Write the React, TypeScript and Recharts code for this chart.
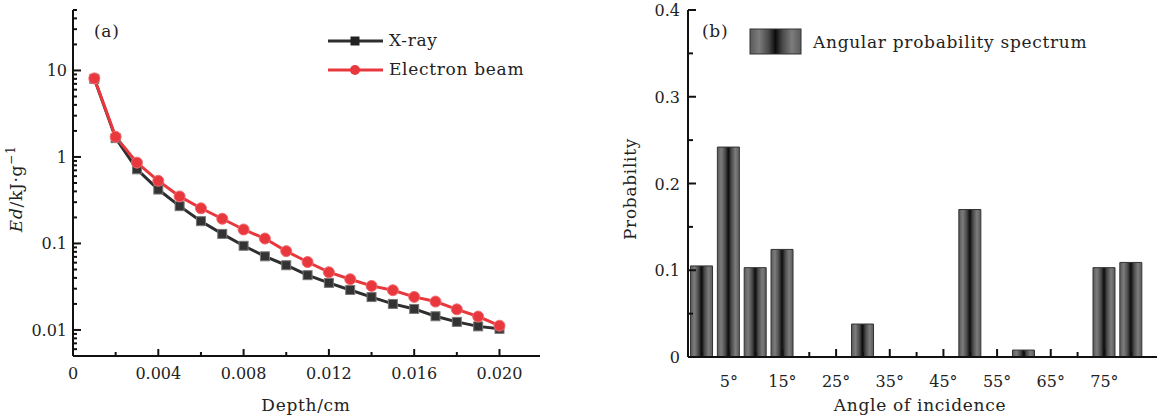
import { LineChart, Line, XAxis, YAxis, BarChart, Bar, Legend, Label } from "recharts";

// (a) energy deposition vs depth
const depth = [
  0.001, 0.002, 0.003, 0.004, 0.005, 0.006, 0.007, 0.008, 0.009, 0.01,
  0.011, 0.012, 0.013, 0.014, 0.015, 0.016, 0.017, 0.018, 0.019, 0.02,
];
const xray = [
  8.0, 1.65, 0.72, 0.42, 0.27, 0.181, 0.129, 0.094, 0.071, 0.056,
  0.043, 0.035, 0.029, 0.024, 0.02, 0.0175, 0.0144, 0.0124, 0.011, 0.0103,
];
const electron = [
  8.1, 1.71, 0.86, 0.53, 0.35, 0.255, 0.193, 0.145, 0.114, 0.0815,
  0.061, 0.0465, 0.0386, 0.0323, 0.0288, 0.0241, 0.0213, 0.0173, 0.0143, 0.0112,
];
const depthTicks = [0, 0.002, 0.004, 0.006, 0.008, 0.01, 0.012, 0.014, 0.016, 0.018, 0.02];
const depthLabels: Record<string, string> = {
  "0": "0", "0.004": "0.004", "0.008": "0.008", "0.012": "0.012", "0.016": "0.016", "0.02": "0.020",
};
const edTicks = [
  0.005, 0.006, 0.007, 0.008, 0.009,
  0.01, 0.02, 0.03, 0.04, 0.05, 0.06, 0.07, 0.08, 0.09,
  0.1, 0.2, 0.3, 0.4, 0.5, 0.6, 0.7, 0.8, 0.9,
  1, 2, 3, 4, 5, 6, 7, 8, 9,
  10, 20, 30, 40, 50,
];
const edLabels: Record<string, string> = { "0.01": "0.01", "0.1": "0.1", "1": "1", "10": "10" };

// (b) angular probability spectrum
const angles = [0, 5, 10, 15, 30, 50, 60, 75, 80];
const probability = [0.105, 0.242, 0.103, 0.124, 0.038, 0.17, 0.008, 0.103, 0.109];
const angleTicks = [0, 5, 10, 15, 20, 25, 30, 35, 40, 45, 50, 55, 60, 65, 70, 75, 80];
const angleLabels = [5, 15, 25, 35, 45, 55, 65, 75];
const probTicks = [0, 0.05, 0.1, 0.15, 0.2, 0.25, 0.3, 0.35, 0.4];
const probLabels: Record<string, string> = { "0": "0", "0.1": "0.1", "0.2": "0.2", "0.3": "0.3", "0.4": "0.4" };

const FONT = "'DejaVu Serif', serif";
const INK = "#111";
const RED = "#e8383e";
const DARK = "#2e2e2e";
const TXT = { fontFamily: FONT, fontSize: 17, letterSpacing: 0.7 };

const depthData = depth.map((d, i) => ({ depth: d, xray: xray[i], electron: electron[i] }));
const angleData = angles.map((a, i) => ({ angle: a, p: probability[i] }));

function key(v: number) {
  return String(Number(v.toPrecision(6)));
}

function DepthTick(props: any) {
  const { x, y, payload } = props;
  const label = depthLabels[key(payload.value)];
  const len = label ? 7 : 4;
  return (
    <g>
      <line x1={x} x2={x} y1={y} y2={y - len} stroke={INK} strokeWidth={2} />
      {label && (
        <text x={x} y={y + 23} textAnchor="middle" fontFamily={FONT} fontSize={16} fill="#222">
          {label}
        </text>
      )}
    </g>
  );
}

function EdTick(props: any) {
  const { x, y, payload } = props;
  const label = edLabels[key(payload.value)];
  const len = label ? 8 : 4;
  return (
    <g>
      <line x1={x} x2={x + len} y1={y} y2={y} stroke={INK} strokeWidth={2} />
      {label && (
        <text x={x - 6} y={y + 6} textAnchor="end" fontFamily={FONT} fontSize={16} fill="#222">
          {label}
        </text>
      )}
    </g>
  );
}

function AngleTick(props: any) {
  const { x, y, payload } = props;
  const major = angleLabels.includes(payload.value);
  const len = major ? 8 : 5;
  return (
    <g>
      <line x1={x} x2={x} y1={y} y2={y - len} stroke={INK} strokeWidth={2} />
      {major && (
        <text x={x} y={y + 30} textAnchor="middle" fontFamily={FONT} fontSize={16} fill="#222">
          {payload.value}°
        </text>
      )}
    </g>
  );
}

function ProbTick(props: any) {
  const { x, y, payload } = props;
  const label = probLabels[key(payload.value)];
  const len = label ? 8 : 5;
  return (
    <g>
      <line x1={x} x2={x + len} y1={y} y2={y} stroke={INK} strokeWidth={2} />
      {label && (
        <text x={x - 8} y={y + 6} textAnchor="end" fontFamily={FONT} fontSize={16} fill="#222">
          {label}
        </text>
      )}
    </g>
  );
}

function SquareDot(props: any) {
  const { cx, cy, index } = props;
  if (cx == null || cy == null) return <g key={index} />;
  return (
    <rect key={index} x={cx - 4.5} y={cy - 4.5} width={9} height={9} fill="#333" stroke="#777" strokeWidth={1} />
  );
}

function CircleDot(props: any) {
  const { cx, cy, index } = props;
  if (cx == null || cy == null) return <g key={index} />;
  return <circle key={index} cx={cx} cy={cy} r={5.5} fill={RED} stroke="#f26a6e" strokeWidth={1} />;
}

function LegendA() {
  return (
    <div style={{ ...TXT, color: "#222", lineHeight: "29px" }}>
      <div style={{ display: "flex", alignItems: "center" }}>
        <svg width={62} height={14}>
          <line x1={1} x2={56} y1={7} y2={7} stroke={DARK} strokeWidth={3} />
          <rect x={23.5} y={2.5} width={9} height={9} fill="#222" />
        </svg>
        <span>X-ray</span>
      </div>
      <div style={{ display: "flex", alignItems: "center" }}>
        <svg width={62} height={14}>
          <line x1={1} x2={56} y1={7} y2={7} stroke={RED} strokeWidth={3} />
          <circle cx={28} cy={7} r={5} fill={RED} />
        </svg>
        <span>Electron beam</span>
      </div>
    </div>
  );
}

function LegendB() {
  return (
    <div style={{ ...TXT, color: "#222", display: "flex", alignItems: "center" }}>
      <svg width={64} height={27}>
        <rect x={1} y={1} width={51} height={25} fill="url(#barGrad)" stroke="#333" strokeWidth={1} />
      </svg>
      <span>Angular probability spectrum</span>
    </div>
  );
}

function PanelTag({ text, x, y }: { text: string; x: number; y: number }) {
  return (
    <div style={{ position: "absolute", left: x, top: y, ...TXT, color: "#222" }}>
      {text}
    </div>
  );
}

export default function App() {
  return (
    <div style={{ position: "absolute", left: 0, top: 0, width: 1160, height: 416, background: "#fff" }}>
      <div style={{ position: "absolute", left: 0, top: 0 }}>
        <LineChart width={560} height={416} data={depthData} margin={{ top: 10, right: 20, left: 0, bottom: 0 }}>
          <XAxis
            dataKey="depth"
            type="number"
            domain={[0, 0.0219]}
            ticks={depthTicks}
            allowDataOverflow
            height={60}
            tickSize={0}
            tickMargin={0}
            tickLine={false}
            axisLine={{ stroke: INK, strokeWidth: 2 }}
            tick={<DepthTick />}
            interval={0}
          >
            <Label
              content={() => (
                <text x={306} y={411} textAnchor="middle" {...TXT} fill="#222">
                  Depth/cm
                </text>
              )}
            />
          </XAxis>
          <XAxis
            xAxisId="top"
            orientation="top"
            type="number"
            domain={[0, 1]}
            height={0}
            tick={false}
            tickLine={false}
            axisLine={{ stroke: INK, strokeWidth: 2 }}
          />
          <YAxis
            type="number"
            scale="log"
            domain={[0.005, 50]}
            allowDataOverflow
            ticks={edTicks}
            width={73}
            tickSize={0}
            tickMargin={0}
            tickLine={false}
            axisLine={{ stroke: INK, strokeWidth: 2 }}
            tick={<EdTick />}
            interval={0}
          >
            <Label
              content={() => (
                <text
                  x={22}
                  y={189}
                  transform="rotate(-90 22 189)"
                  textAnchor="middle"
                  {...TXT}
                  fill="#222"
                >
                  <tspan fontStyle="italic">Ed</tspan>
                  <tspan>/kJ·g</tspan>
                  <tspan dy={-7} fontSize={12}>−1</tspan>
                </text>
              )}
            />
          </YAxis>
          <YAxis
            yAxisId="right"
            orientation="right"
            type="number"
            domain={[0, 1]}
            width={0}
            tick={false}
            tickLine={false}
            axisLine={{ stroke: INK, strokeWidth: 2 }}
          />
          <Legend
            layout="vertical"
            align="center"
            verticalAlign="middle"
            content={<LegendA />}
            wrapperStyle={{ position: "absolute", left: 327, top: 26, width: 230 }}
          />
          <Line
            dataKey="xray"
            stroke={DARK}
            strokeWidth={3}
            dot={<SquareDot />}
            activeDot={false}
            isAnimationActive={false}
          />
          <Line
            dataKey="electron"
            stroke={RED}
            strokeWidth={3}
            dot={<CircleDot />}
            activeDot={false}
            isAnimationActive={false}
          />
        </LineChart>
      </div>

      <div style={{ position: "absolute", left: 580, top: 0 }}>
        <BarChart width={580} height={416} data={angleData} margin={{ top: 10, right: 3, left: 0, bottom: 0 }}>
          <defs>
            <linearGradient id="barGrad" x1="0" y1="0" x2="1" y2="0">
              <stop offset="0%" stopColor="#5a5a5a" />
              <stop offset="18%" stopColor="#7c7c7c" />
              <stop offset="36%" stopColor="#4a4a4a" />
              <stop offset="50%" stopColor="#0c0c0c" />
              <stop offset="64%" stopColor="#4a4a4a" />
              <stop offset="82%" stopColor="#7c7c7c" />
              <stop offset="100%" stopColor="#5a5a5a" />
            </linearGradient>
          </defs>
          <XAxis
            dataKey="angle"
            type="number"
            domain={[-2.6, 84.8]}
            allowDataOverflow
            ticks={angleTicks}
            height={59}
            tickSize={0}
            tickMargin={0}
            tickLine={false}
            axisLine={{ stroke: INK, strokeWidth: 2 }}
            tick={<AngleTick />}
            interval={0}
          >
            <Label
              content={() => (
                <text x={340} y={411} textAnchor="middle" {...TXT} fill="#222">
                  Angle of incidence
                </text>
              )}
            />
          </XAxis>
          <XAxis
            xAxisId="top"
            orientation="top"
            type="number"
            domain={[0, 1]}
            height={0}
            tick={false}
            tickLine={false}
            axisLine={{ stroke: INK, strokeWidth: 2 }}
          />
          <YAxis
            type="number"
            domain={[0, 0.4]}
            ticks={probTicks}
            width={108}
            tickSize={0}
            tickMargin={0}
            tickLine={false}
            axisLine={{ stroke: INK, strokeWidth: 2 }}
            tick={<ProbTick />}
            interval={0}
          >
            <Label
              content={() => (
                <text
                  x={56}
                  y={189}
                  transform="rotate(-90 56 189)"
                  textAnchor="middle"
                  {...TXT}
                  fill="#222"
                >
                  Probability
                </text>
              )}
            />
          </YAxis>
          <YAxis
            yAxisId="right"
            orientation="right"
            type="number"
            domain={[0, 1]}
            width={0}
            tick={false}
            tickLine={false}
            axisLine={{ stroke: INK, strokeWidth: 2 }}
          />
          <Legend
            layout="vertical"
            align="center"
            verticalAlign="middle"
            content={<LegendB />}
            wrapperStyle={{ position: "absolute", left: 169, top: 28, width: 380 }}
          />
          <Bar dataKey="p" barSize={22} fill="url(#barGrad)" stroke="#333" strokeWidth={1} isAnimationActive={false} />
        </BarChart>
      </div>

      <PanelTag text="(a)" x={94} y={21} />
      <PanelTag text="(b)" x={702} y={21} />
    </div>
  );
}
